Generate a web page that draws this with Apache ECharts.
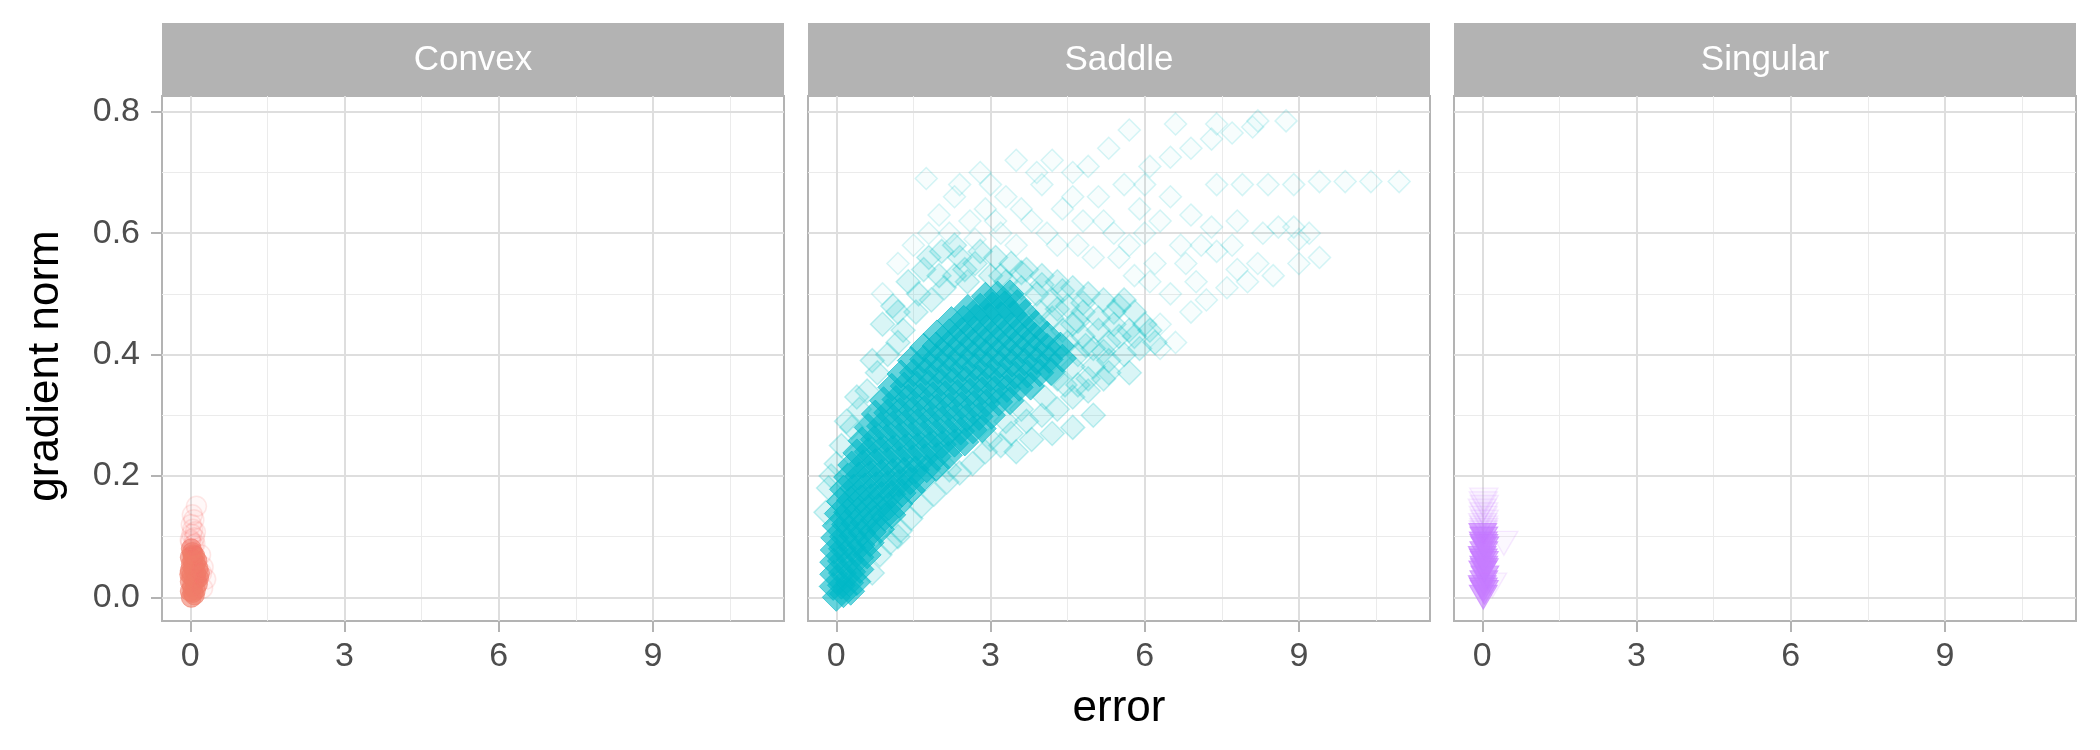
<!DOCTYPE html>
<html>
<head>
<meta charset="utf-8">
<title>gradient norm vs error</title>
<script src="https://cdn.jsdelivr.net/npm/echarts@6/dist/echarts.min.js"></script>
<style>
  html, body { margin: 0; padding: 0; background: #fff; }
  #chart { width: 2100px; height: 750px; }
</style>
</head>
<body>
<div id="chart"></div>
<script>
// facet names and axis ticks
var panels = ['Convex', 'Saddle', 'Singular'];
var xTicks = [0, 3, 6, 9];
var xMinor = [1.5, 4.5, 7.5, 10.5];
var yTicks = [0, 0.2, 0.4, 0.6, 0.8];
var yMinor = [0.1, 0.3, 0.5, 0.7];

// Convex: tight blob at error ~ 0
var convexCore = [
  [0.02,0.000],[0.08,0.004],[0.00,0.010],[0.10,0.012],[0.04,0.018],[0.14,0.022],
  [0.00,0.026],[0.08,0.028],[0.16,0.032],[0.03,0.036],[0.11,0.040],[0.00,0.044],
  [0.07,0.046],[0.15,0.048],[0.02,0.054],[0.10,0.056],[0.05,0.062],[0.00,0.066],
  [0.09,0.068],[0.04,0.074],[0.02,0.080],[0.06,0.052],[0.12,0.030],[0.05,0.008],
  [0.18,0.040],[0.13,0.060],[-0.01,0.038],[0.06,0.070]
];
var convexHalo = [
  [0.06,0.086],[0.01,0.092],[0.08,0.098],[0.03,0.104],[0.05,0.112],[0.02,0.120],
  [0.07,0.128],[0.25,0.050],[0.30,0.030],[0.24,0.015],[0.12,0.150],[0.20,0.070],
  [0.04,0.136],[0.10,0.108],[0.22,0.040],[0.00,0.095],[0.09,0.088]
];

// Saddle: dense core band
var saddleCore = [
  [0.00,0.000],[0.14,0.006],[0.28,0.010],
  [-0.06,0.018],[0.10,0.020],[0.26,0.024],[0.40,0.026],
  [-0.05,0.038],[0.12,0.040],[0.30,0.042],[0.46,0.046],
  [-0.05,0.058],[0.10,0.060],[0.28,0.062],[0.46,0.066],[0.60,0.070],
  [-0.04,0.078],[0.12,0.080],[0.30,0.082],[0.48,0.086],[0.66,0.090],
  [-0.03,0.098],[0.14,0.100],[0.32,0.102],[0.50,0.106],[0.70,0.108],[0.86,0.112],
  [0.00,0.118],[0.18,0.120],[0.36,0.122],[0.54,0.124],[0.74,0.128],[0.94,0.132],[1.08,0.136],
  [0.04,0.138],[0.22,0.140],[0.42,0.142],[0.62,0.146],[0.82,0.148],[1.02,0.150],[1.22,0.154],
  [0.08,0.158],[0.28,0.160],[0.48,0.162],[0.68,0.164],[0.88,0.168],[1.08,0.170],[1.28,0.172],[1.46,0.176],
  [0.14,0.178],[0.34,0.180],[0.56,0.182],[0.78,0.184],[1.00,0.186],[1.22,0.188],[1.44,0.192],[1.66,0.194],
  [0.22,0.198],[0.44,0.200],[0.66,0.202],[0.88,0.204],[1.10,0.206],[1.32,0.208],[1.54,0.210],[1.76,0.212],[1.94,0.214],
  [0.30,0.218],[0.52,0.220],[0.76,0.222],[1.00,0.224],[1.24,0.226],[1.48,0.228],[1.72,0.230],[1.96,0.232],[2.18,0.234],
  [0.40,0.238],[0.62,0.240],[0.86,0.242],[1.10,0.244],[1.34,0.246],[1.58,0.248],[1.82,0.250],[2.06,0.252],[2.30,0.254],[2.50,0.256],
  [0.50,0.258],[0.74,0.260],[0.98,0.262],[1.22,0.264],[1.46,0.266],[1.70,0.268],[1.94,0.270],[2.18,0.272],[2.42,0.274],[2.66,0.276],[2.84,0.278],
  [0.62,0.280],[0.86,0.282],[1.10,0.284],[1.34,0.286],[1.58,0.288],[1.82,0.290],[2.06,0.292],[2.30,0.294],[2.54,0.296],[2.78,0.298],[3.02,0.300],
  [0.76,0.302],[1.00,0.304],[1.24,0.306],[1.48,0.308],[1.72,0.310],[1.96,0.312],[2.20,0.314],[2.44,0.316],[2.68,0.318],[2.92,0.320],[3.16,0.322],[3.38,0.324],
  [0.92,0.324],[1.16,0.326],[1.40,0.328],[1.64,0.330],[1.88,0.332],[2.12,0.334],[2.36,0.336],[2.60,0.338],[2.84,0.340],[3.08,0.342],[3.32,0.344],[3.56,0.346],[3.78,0.348],
  [1.08,0.346],[1.32,0.348],[1.56,0.350],[1.80,0.352],[2.04,0.354],[2.28,0.356],[2.52,0.358],[2.76,0.360],[3.00,0.362],[3.24,0.364],[3.48,0.366],[3.72,0.368],[3.96,0.370],[4.18,0.372],
  [1.26,0.368],[1.50,0.370],[1.74,0.372],[1.98,0.374],[2.22,0.376],[2.46,0.378],[2.70,0.380],[2.94,0.382],[3.18,0.384],[3.42,0.386],[3.66,0.388],[3.90,0.390],[4.14,0.392],[4.40,0.394],
  [1.46,0.390],[1.70,0.392],[1.94,0.394],[2.18,0.396],[2.42,0.398],[2.66,0.400],[2.90,0.402],[3.14,0.404],[3.38,0.406],[3.62,0.408],[3.86,0.410],[4.10,0.412],[4.36,0.414],
  [1.70,0.412],[1.94,0.414],[2.18,0.416],[2.42,0.418],[2.66,0.420],[2.90,0.422],[3.14,0.424],[3.38,0.426],[3.62,0.428],[3.86,0.430],[4.10,0.432],
  [1.96,0.434],[2.20,0.436],[2.44,0.438],[2.68,0.440],[2.92,0.442],[3.16,0.444],[3.40,0.446],[3.64,0.448],[3.88,0.450],
  [2.24,0.456],[2.48,0.458],[2.72,0.460],[2.96,0.462],[3.20,0.464],[3.44,0.466],[3.68,0.468],
  [2.56,0.476],[2.80,0.478],[3.04,0.480],[3.28,0.482],[3.52,0.484],
  [2.90,0.496],[3.14,0.498],[3.38,0.500]
];
// Saddle: medium density fringe around the core
var saddleMid = [
  [1.30,0.440],[1.55,0.470],[1.85,0.490],[2.10,0.510],[1.40,0.520],[1.70,0.540],[2.30,0.530],[2.55,0.520],
  [2.05,0.570],[2.40,0.560],[2.70,0.550],[3.00,0.530],[3.30,0.520],[3.60,0.510],[3.90,0.500],[4.20,0.490],
  [4.50,0.480],[4.80,0.470],[5.10,0.460],[5.40,0.450],[5.70,0.440],[3.10,0.560],[3.40,0.550],[3.70,0.540],
  [4.00,0.530],[4.30,0.520],[4.60,0.510],[4.90,0.500],[5.20,0.490],[5.50,0.480],[5.80,0.470],[6.00,0.450],
  [4.50,0.420],[4.80,0.430],[4.70,0.400],[5.00,0.410],[5.00,0.380],[5.30,0.420],[5.30,0.390],[5.60,0.400],
  [5.90,0.410],[6.20,0.420],[5.70,0.370],[4.60,0.450],[4.20,0.460],[3.95,0.470],
  [3.20,0.530],[3.60,0.535],[4.00,0.515],[4.40,0.505],[4.80,0.485],[5.40,0.470],[5.60,0.490],
  [4.30,0.475],[4.70,0.455],[5.10,0.440],[5.50,0.430],[6.10,0.440],[4.40,0.440],[4.85,0.415],
  [5.20,0.405],[5.80,0.430],[4.60,0.380],[4.90,0.360],[5.30,0.370],[4.30,0.360],[4.70,0.350],
  [1.80,0.560],[2.30,0.580],[2.80,0.570],[1.60,0.500],[2.00,0.530],[2.50,0.540],[1.20,0.470],
  [0.70,0.040],[0.85,0.070],[1.05,0.090],[1.25,0.110],[1.45,0.130],[1.65,0.150],[1.90,0.170],[2.15,0.190],
  [2.40,0.205],[2.65,0.220],[2.90,0.240],[3.20,0.250],[3.50,0.240],[3.80,0.260],[3.40,0.270],[3.70,0.290],
  [4.00,0.300],[4.30,0.310],[4.60,0.280],[4.60,0.330],[4.90,0.340],[5.00,0.300],[5.20,0.360],[4.20,0.270],
  [3.00,0.260],[2.20,0.210],[1.20,0.100],[4.45,0.350],[4.05,0.330],[3.60,0.310],[3.30,0.290],
  [-0.20,0.140],[-0.15,0.180],[0.00,0.220],[0.10,0.250],[0.30,0.280],[0.45,0.310],[0.60,0.340],[0.80,0.370],
  [1.00,0.400],[1.20,0.420],[0.90,0.450],[1.10,0.480],[0.70,0.390],[0.40,0.330],[0.20,0.290],[-0.10,0.200]
];
// Saddle: sparse trajectories reaching high error
var saddleSparse = [
  [1.50,0.580],[1.80,0.600],[2.00,0.630],[2.30,0.660],[1.75,0.690],[2.40,0.680],[2.80,0.700],[2.60,0.620],
  [2.90,0.640],[3.20,0.600],[3.50,0.580],[3.30,0.660],[3.50,0.720],[3.80,0.620],[4.10,0.600],[4.00,0.680],
  [4.20,0.720],[4.40,0.640],[4.70,0.580],[4.80,0.620],[4.90,0.710],[5.10,0.660],[5.30,0.740],[5.00,0.560],
  [5.40,0.600],[5.70,0.580],[5.70,0.770],[5.90,0.640],[6.00,0.680],[6.20,0.550],[6.30,0.620],[6.60,0.780],
  [6.50,0.660],[6.50,0.500],[6.70,0.580],[6.90,0.630],[7.00,0.520],[7.30,0.610],[7.40,0.780],[7.40,0.570],
  [7.40,0.680],[7.80,0.540],[7.80,0.620],[7.90,0.680],[8.20,0.785],[8.20,0.550],[8.30,0.600],[8.40,0.680],
  [8.60,0.610],[8.75,0.785],[8.90,0.680],[9.00,0.590],[9.00,0.550],[9.40,0.560],[9.40,0.685],[9.90,0.685],
  [10.40,0.685],[10.95,0.685],[6.30,0.450],[6.60,0.420],[6.90,0.470],[7.20,0.490],[7.60,0.510],[8.00,0.520],
  [8.50,0.530],[6.30,0.410],[6.10,0.710],[6.50,0.725],[6.90,0.740],[7.30,0.755],[7.70,0.765],[8.10,0.775],
  [8.90,0.610],[9.20,0.600],[1.20,0.550],[0.90,0.500],[6.00,0.600],[6.80,0.550],
  [2.20,0.600],[2.70,0.590],[3.10,0.620],[3.60,0.640],[4.30,0.580],[4.60,0.660],[5.20,0.620],[5.60,0.680],
  [3.00,0.680],[3.90,0.700],[4.60,0.700],[5.50,0.560],[6.10,0.520],[5.80,0.530],[7.10,0.580],[7.70,0.580]
];

// Singular: narrow column at error ~ 0
var singularCore = [
  [0.02,0.000],[0.04,0.008],[0.00,0.016],[0.03,0.024],[0.05,0.032],[0.01,0.040],
  [0.03,0.048],[0.04,0.056],[0.00,0.064],[0.03,0.072],[0.05,0.080],[0.02,0.088],
  [0.03,0.096],[0.01,0.102],[0.02,0.012],[0.04,0.044],[0.02,0.060],[0.03,0.084]
];
var singularHalo = [
  [0.03,0.110],[0.01,0.118],[0.04,0.124],[0.02,0.130],[0.03,0.136],[0.00,0.142],
  [0.04,0.148],[0.02,0.154],[0.03,0.160],[0.42,0.089],[0.20,0.020],[0.02,0.106],[0.03,0.114]
];

var panelLeft = [162, 808, 1454];
var panelWidth = 622;
var panelTop = 96;
var panelHeight = 525;
var stripTop = 23;
var font = '"Liberation Sans", Arial, sans-serif';

function gridLines(idx) {
  var major = { color: '#DEDEDE', width: 2, type: 'solid' };
  var minor = { color: '#EBEBEB', width: 1, type: 'solid' };
  var lines = [];
  xMinor.forEach(function (v) { lines.push({ xAxis: v, lineStyle: minor }); });
  yMinor.forEach(function (v) { lines.push({ yAxis: v, lineStyle: minor }); });
  xTicks.forEach(function (v) { lines.push({ xAxis: v, lineStyle: major }); });
  yTicks.forEach(function (v) { lines.push({ yAxis: v, lineStyle: major }); });
  return {
    type: 'scatter', xAxisIndex: idx, yAxisIndex: idx, data: [], z: 1,
    silent: true,
    markLine: {
      z: 1, silent: true, symbol: ['none', 'none'], label: { show: false },
      animation: false, data: lines
    }
  };
}

function pts(idx, data, symbol, size, fill, stroke, bw, rotate) {
  return {
    type: 'scatter', xAxisIndex: idx, yAxisIndex: idx, data: data, z: 10,
    symbol: symbol, symbolSize: size, symbolRotate: rotate || 0,
    silent: true,
    itemStyle: { color: fill, borderColor: stroke, borderWidth: bw, opacity: 1 }
  };
}

var grids = [], xAxes = [], yAxes = [], graphics = [];
panels.forEach(function (name, i) {
  grids.push({ left: panelLeft[i], top: panelTop, width: panelWidth, height: panelHeight,
    show: true, borderColor: '#B3B3B3', borderWidth: 2, backgroundColor: '#fff' });
  xAxes.push({
    type: 'value', gridIndex: i, min: -0.55, max: 11.55,
    axisLine: { show: true, onZero: false, lineStyle: { color: '#B3B3B3', width: 2 } },
    axisTick: { show: true, length: 11, customValues: xTicks, lineStyle: { color: '#B3B3B3', width: 2 } },
    axisLabel: { show: true, customValues: xTicks, margin: 19, fontSize: 34,
      fontFamily: font, color: '#4D4D4D' },
    splitLine: { show: false }
  });
  yAxes.push({
    type: 'value', gridIndex: i, min: -0.039, max: 0.826,
    axisLine: { show: true, onZero: false, lineStyle: { color: '#B3B3B3', width: 2 } },
    axisTick: { show: i === 0, length: 11, customValues: yTicks, lineStyle: { color: '#B3B3B3', width: 2 } },
    axisLabel: { show: i === 0, customValues: yTicks, margin: 22, fontSize: 34,
      fontFamily: font, color: '#4D4D4D',
      formatter: function (v) { return v.toFixed(1); } },
    splitLine: { show: false }
  });
  graphics.push({ type: 'rect', silent: true,
    shape: { x: panelLeft[i], y: stripTop, width: panelWidth, height: panelTop - stripTop },
    style: { fill: '#B3B3B3' } });
  graphics.push({ type: 'text', silent: true, x: panelLeft[i] + panelWidth / 2, y: 60,
    style: { text: name, fill: '#fff', font: '35px ' + font,
      align: 'center', verticalAlign: 'middle', textAlign: 'center', textVerticalAlign: 'middle' } });
});

graphics.push({ type: 'text', silent: true, x: 1119, y: 709,
  style: { text: 'error', fill: '#000', font: '44px ' + font,
    align: 'center', verticalAlign: 'middle', textAlign: 'center', textVerticalAlign: 'middle' } });
graphics.push({ type: 'text', silent: true, x: 46, y: 366, rotation: Math.PI / 2,
  style: { text: 'gradient norm', fill: '#000', font: '44px ' + font,
    align: 'center', verticalAlign: 'middle', textAlign: 'center', textVerticalAlign: 'middle' } });

var series = [
  gridLines(0), gridLines(1), gridLines(2),
  pts(0, convexCore, 'circle', 20, 'rgba(240,125,105,0.6)', 'rgba(240,125,105,0.6)', 1),
  pts(0, convexHalo, 'circle', 20, 'rgba(248,118,109,0.05)', 'rgba(248,118,109,0.16)', 1.5),
  pts(1, saddleCore, 'diamond', 28, 'rgba(0,184,198,0.6)', 'rgba(0,184,198,0.6)', 1),
  pts(1, saddleMid, 'diamond', 24, 'rgba(0,191,196,0.15)', 'rgba(0,191,196,0.24)', 1.5),
  pts(1, saddleSparse, 'diamond', 22, 'rgba(0,191,196,0.03)', 'rgba(0,191,196,0.16)', 1.5),
  pts(2, singularCore, 'triangle', [28, 24], 'rgba(199,124,255,0.62)', 'rgba(199,124,255,0.62)', 1, 180),
  pts(2, singularHalo, 'triangle', [28, 24], 'rgba(199,124,255,0.05)', 'rgba(199,124,255,0.15)', 1.4, 180)
];

var chart = echarts.init(document.getElementById('chart'), null, { renderer: 'canvas' });
chart.setOption({
  backgroundColor: '#fff',
  animation: false,
  grid: grids,
  xAxis: xAxes,
  yAxis: yAxes,
  graphic: graphics,
  series: series
});
</script>
</body>
</html>
